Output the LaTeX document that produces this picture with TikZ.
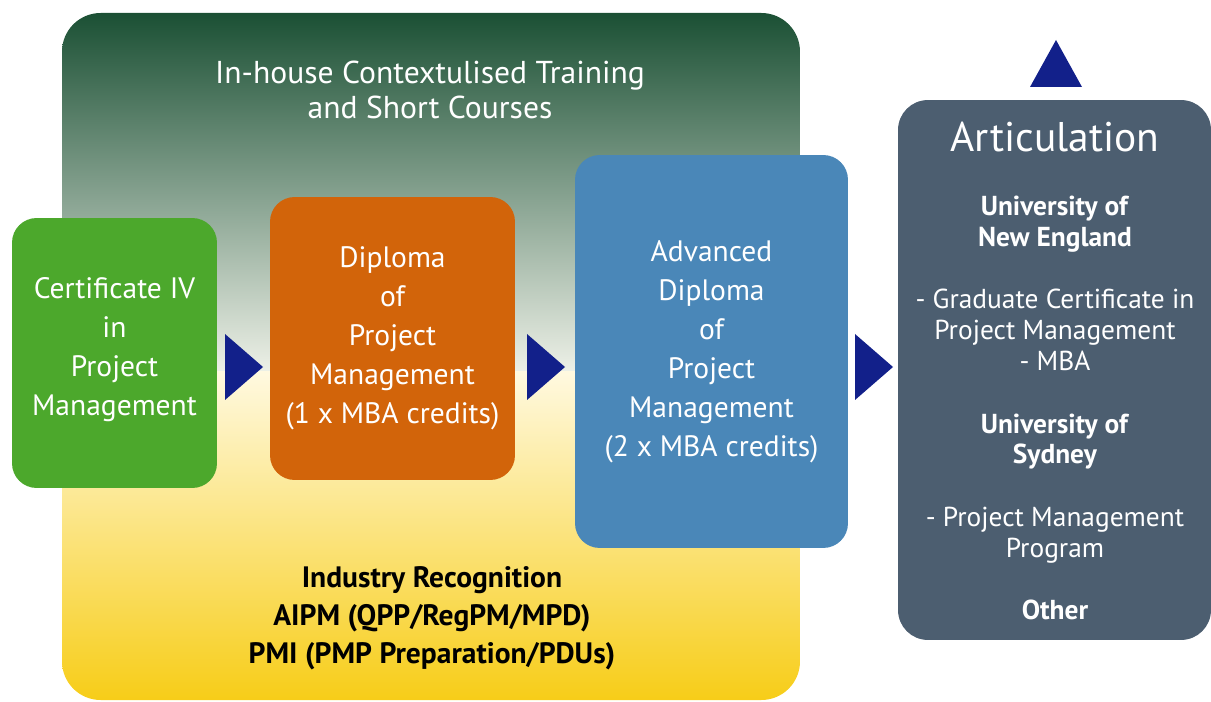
\documentclass[tikz,border=0pt]{standalone}
\usepackage{fontspec}
\setmainfont{PT Sans}
\usetikzlibrary{positioning,calc}
\definecolor{panelgreen}{HTML}{1B5034}
\definecolor{panelmid}{HTML}{6C8E6E}
\definecolor{panelpale}{HTML}{EEF1E8}
\definecolor{panelcream}{HTML}{FFF9E0}
\definecolor{panelgold}{HTML}{F7CD18}
\definecolor{certgreen}{HTML}{4CA82C}
\definecolor{diporange}{HTML}{D2640A}
\definecolor{advblue}{HTML}{4A87B8}
\definecolor{artslate}{HTML}{4C5E70}
\definecolor{pointblue}{HTML}{12208A}
\tikzset{stepbox/.style={rounded corners=14pt, text=white, align=center,
         inner sep=0pt, font=\fontsize{16.8}{22.2}\selectfont},
         headtext/.style={text=white, align=center,
         font=\fontsize{18}{20.4}\selectfont},
         foottext/.style={text=black, align=center,
         font=\bfseries\fontsize{16.8}{21.5}\selectfont}}

\begin{document}
\begin{tikzpicture}[x=0.02cm,y=-0.02cm]
  \useasboundingbox (0,0) rectangle (1211,702);
  % shaded panel behind the steps
  \begin{scope}
    \clip[rounded corners=22pt] (62,13) rectangle (800,700);
    \shade[top color=panelgreen, middle color=panelmid, bottom color=panelpale]
      (62,13) rectangle (800,373);
    \shade[top color=panelcream, middle color=panelgold!55!panelcream,
      bottom color=panelgold] (62,372) rectangle (800,700);
  \end{scope}
  \node[headtext] (inhouse) at (430,90)
    {In-house Contextulised Training\\and Short Courses};
  \node[foottext] (industry) at (432,618)
    {Industry Recognition\\AIPM (QPP/RegPM/MPD)\\PMI (PMP Preparation/PDUs)};
  % the steps
  \node[stepbox, fill=certgreen, minimum width=4.1cm, minimum height=5.4cm]
    (cert) at (114.5,353) {Certificate IV\\in\\Project\\Management\\[-15pt]};
  \node[stepbox, fill=diporange, minimum width=4.9cm, minimum height=5.66cm]
    (dip) at (392.5,338.5) {Diploma\\of\\Project\\Management\\(1 x MBA credits)};
  \node[stepbox, fill=advblue, minimum width=5.46cm, minimum height=7.86cm]
    (adv) at (711.5,351.5)
    {Advanced\\Diploma\\of\\Project\\Management\\(2 x MBA credits)};
  \node[stepbox, rounded corners=17pt, fill=artslate, minimum width=6.26cm,
    minimum height=10.8cm] (arti) at (1054.5,370) {};
  \node[text=white, font=\fontsize{23.6}{28}\selectfont] (arttitle)
    at (1055,137) {Articulation};
  \node[text=white, align=center, font=\fontsize{15.6}{17.6}\selectfont]
    (artbody) at (1055,408)
    {\textbf{University of}\\\textbf{New England}\\[18pt]
     - Graduate Certificate in\\Project Management\\- MBA\\[18pt]
     \textbf{University of}\\\textbf{Sydney}\\[18pt]
     - Project Management\\Program\\[18pt]
     \textbf{Other}};
  % pointers
  \foreach \x in {244,546,874}
    \fill[pointblue] (\x-19,334) -- (\x+19,367) -- (\x-19,400) -- cycle;
  \fill[pointblue] (1030,87) -- (1056,40) -- (1082,87) -- cycle;
\end{tikzpicture}
\end{document}
